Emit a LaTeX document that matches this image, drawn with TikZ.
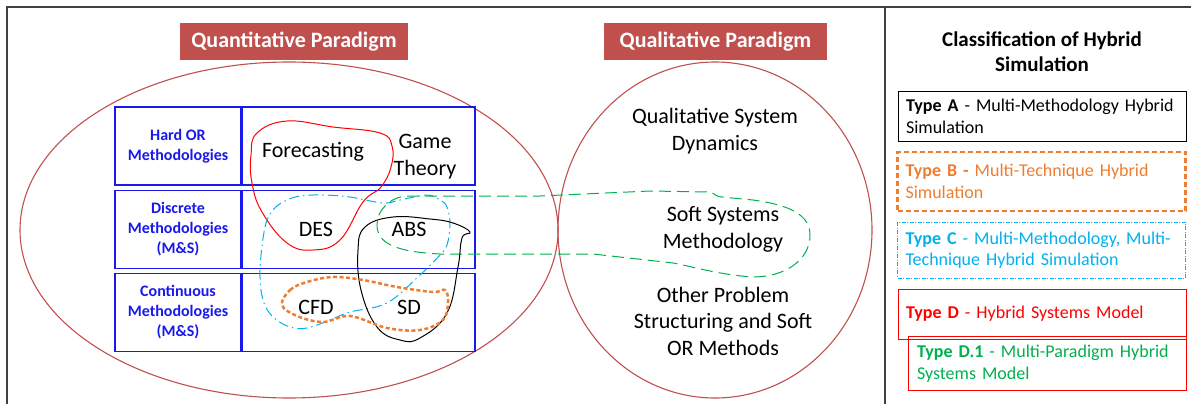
\documentclass[tikz,border=0pt]{standalone}
\usepackage{fontspec}
\setmainfont{Carlito}
\usetikzlibrary{positioning}
\definecolor{paradigmred}{RGB}{192,80,77}
\definecolor{tableblue}{RGB}{25,25,235}
\definecolor{typeorange}{RGB}{237,125,49}
\definecolor{typecyan}{RGB}{0,176,240}
\definecolor{typegreen}{RGB}{0,176,80}
\definecolor{framegray}{RGB}{64,64,64}

\begin{document}
\begin{tikzpicture}[x=1pt, y=-1pt,
                      paradigm/.style = {
                        fill=paradigmred, text=white,
                        font=\fontsize{22}{26}\selectfont\bfseries,
                        minimum height=37pt, inner sep=0pt
                      },
                      rowlabel/.style = {
                        draw=tableblue, line width=1.2pt,
                        minimum width=126pt, minimum height=78pt,
                        text=tableblue, align=center,
                        font=\fontsize{16}{20}\selectfont\bfseries
                      },
                      rowcell/.style = {
                        draw=tableblue, line width=1.2pt,
                        minimum width=234pt, minimum height=78pt
                      },
                      divider/.style = {
                        draw=tableblue, line width=2pt
                      },
                      body/.style = {
                        align=center, inner sep=0pt,
                        font=\fontsize{22}{26.5}\selectfont
                      },
                      typebox/.style = {
                        align=left, inner sep=8pt,
                        minimum width=288pt,
                        text width=272pt,
                        font=\fontsize{18}{21.5}\selectfont
                      },
                      frame/.style = {
                        draw=framegray, line width=1.5pt
                      }]
    \useasboundingbox (0,0) rectangle (1191,404);
    \draw[frame] (7,404) -- (7,7) -- (1191,7);
    \draw[frame] (885,7) -- (885,404);

    \draw[paradigmred, line width=1.1pt] (289,230) ellipse [x radius=269, y radius=168];
    \draw[paradigmred, line width=1.1pt] (715,230) ellipse [x radius=157, y radius=168];

    \node[paradigm, minimum width=228pt] (quant) at (294,41.5) {Quantitative Paradigm};
    \node[paradigm, minimum width=223pt] (qual) at (715.5,41.5) {Qualitative Paradigm};

    \node[rowlabel] (hardor) at (178,146) {Hard OR\\Methodologies};
    \node[rowcell] (hardcell) at (358,146) {};
    \node[rowlabel] (discrete) at (178,229.5) {Discrete\\Methodologies\\(M\&S)};
    \node[rowcell] (discretecell) at (358,229.5) {};
    \node[rowlabel] (continuous) at (178,312.5) {Continuous\\Methodologies\\(M\&S)};
    \node[rowcell] (continuouscell) at (358,312.5) {};
    \draw[divider] (hardor.north east) -- (hardor.south east);
    \draw[divider] (discrete.north east) -- (discrete.south east);
    \draw[divider] (continuous.north east) -- (continuous.south east);

    \draw[red, line width=1pt] plot [smooth cycle, tension=0.7] coordinates {
      (257,133) (287,121) (333,127) (380,133) (392,146) (391,167)
      (381,187) (363,202) (340,240) (313,250) (287,243) (262,212)
      (252,183) (251,155)};
    \draw[typecyan, line width=1pt, dash pattern=on 10pt off 4pt on 1.5pt off 4pt]
      plot [smooth cycle, tension=0.6] coordinates {
      (260,270) (265,227) (273,210) (285,201) (300,196) (323,195)
      (350,197) (383,203) (400,200) (427,195) (440,200) (447,207)
      (450,225) (447,245) (440,255) (420,275) (387,303) (350,312)
      (330,320) (307,328) (290,327) (273,317) (263,300)};
    \draw[typegreen, line width=1pt, dash pattern=on 12pt off 6pt]
      (407,196) -- (540,196) -- (650,191) -- (710,192)
      .. controls (714,193) and (716,197) .. (722,197) -- (753,200)
      .. controls (790,205) and (810,215) .. (810,235)
      .. controls (810,260) and (785,277) .. (753,277)
      .. controls (720,275) and (690,266) .. (673,263)
      -- (593,254) -- (440,254)
      .. controls (400,252) and (377,245) .. (377,225)
      .. controls (377,210) and (390,197) .. (407,196) -- cycle;
    \draw[black, line width=1pt] plot [smooth cycle, tension=0.7] coordinates {
      (365,227) (393,217) (430,219) (453,223) (470,232) (462,238)
      (458,267) (447,313) (420,338) (400,340) (377,327) (361,290)
      (358,250)};
    \draw[typeorange, line width=2.5pt, dash pattern=on 4pt off 2.5pt]
      plot [smooth cycle, tension=0.6] coordinates {
      (282,305) (290,290) (307,282) (333,277) (363,280) (397,287)
      (433,292) (445,290) (448,302) (443,320) (420,330) (387,328)
      (350,316) (323,322) (297,316)};

    \node[body] (forecast) at (313,152) {Forecasting};
    \node[body] (game) at (425,156.5) {Game\\Theory};
    \node[body] (des) at (316,229) {DES};
    \node[body] (abs) at (409,229) {ABS};
    \node[body] (cfd) at (316,307) {CFD};
    \node[body] (sd) at (409,307) {SD};

    \node[body] (qsd) at (715,131) {Qualitative System\\Dynamics};
    \node[body] (ssm) at (723,229.5) {Soft Systems\\Methodology};
    \node[body] (psm) at (723,321) {Other Problem\\Structuring and Soft\\OR Methods};

    \node[align=center, font=\fontsize{21}{25}\selectfont\bfseries] (classtitle)
      at (1042,52) {Classification of Hybrid\\Simulation};

    \node[typebox, draw=black, line width=0.8pt, minimum height=49pt] (typea)
      at (1042,116.5) {\textbf{Type A} - Multi-Methodology Hybrid\\Simulation};
    \node[typebox, draw=typeorange, text=typeorange, line width=2.5pt,
          dash pattern=on 5pt off 3pt, minimum height=59pt] (typeb)
      at (1041.5,181.5) {\textbf{Type B -} Multi-Technique Hybrid\\Simulation};
    \node[typebox, draw=typecyan, text=typecyan, line width=0.8pt,
          dash pattern=on 4pt off 1.5pt on 1pt off 1.5pt, minimum height=56pt] (typec)
      at (1041.5,250) {\textbf{Type C} - Multi-Methodology, Multi-\\Technique Hybrid Simulation};
    \node[typebox, draw=red, text=red, line width=1pt, minimum height=50pt] (typed)
      at (1042,314) {\textbf{Type D} - Hybrid Systems Model};
    \node[typebox, draw=red, text=typegreen, line width=1pt, inner sep=9pt,
          minimum width=278pt, text width=260pt, minimum height=49pt] (typed1)
      at (1047,363.5) {\textbf{Type D.1} - Multi-Paradigm Hybrid\\Systems Model};
\end{tikzpicture}
\end{document}
